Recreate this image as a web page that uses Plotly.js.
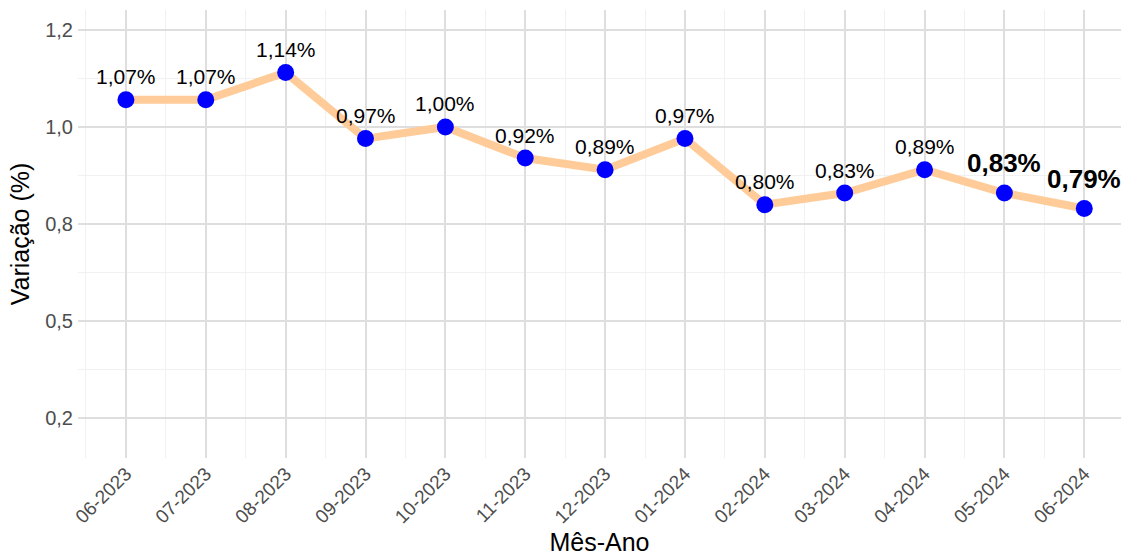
<!DOCTYPE html>
<html>
<head>
<meta charset="utf-8">
<script src="https://cdn.plot.ly/plotly-3.0.1.min.js"></script>
<style>html,body{margin:0;padding:0;background:#fff;}#chart{width:1121px;height:556px;}</style>
</head>
<body>
<div id="chart"></div>
<script>
const categories = ['06-2023','07-2023','08-2023','09-2023','10-2023','11-2023','12-2023','01-2024','02-2024','03-2024','04-2024','05-2024','06-2024'];
const values = [1.07, 1.07, 1.14, 0.97, 1.00, 0.92, 0.89, 0.97, 0.80, 0.83, 0.89, 0.83, 0.79];
const labels = ['1,07%','1,07%','1,14%','0,97%','1,00%','0,92%','0,89%','0,97%','0,80%','0,83%','0,89%','0,83%','0,79%'];
const highlighted = [false,false,false,false,false,false,false,false,false,false,false,true,true];
const yTickVals = [0.25, 0.5, 0.75, 1.0, 1.25];
const yTickText = ['0,2','0,5','0,8','1,0','1,2'];
const yMinorVals = [0.375, 0.625, 0.875, 1.125];

const idx = categories.map((c, i) => i);
const font = 'Liberation Sans, Arial, Helvetica, sans-serif';

const traces = [
  {x: idx, y: values, type: 'scatter', mode: 'lines', line: {color: '#FFCC99', width: 8}, hoverinfo: 'skip'},
  {x: idx, y: values, type: 'scatter', mode: 'markers', marker: {color: '#0000FF', size: 17}, text: labels, hoverinfo: 'text'}
];

const annotations = idx.map(i => ({
  x: i, y: values[i], xref: 'x', yref: 'y',
  text: highlighted[i] ? '<b>' + labels[i] + '</b>' : labels[i],
  showarrow: false,
  yshift: highlighted[i] ? 30 : 23,
  font: {family: font, size: highlighted[i] ? 26 : 21, color: '#000'}
}));

const layout = {
  width: 1121, height: 556,
  margin: {l: 78, r: 0, t: 10, b: 98},
  paper_bgcolor: '#fff', plot_bgcolor: '#fff',
  showlegend: false,
  font: {family: font},
  xaxis: {
    type: 'linear', range: [-0.6, 12.46],
    tickmode: 'array', tickvals: idx, ticktext: categories,
    tickangle: -45, tickfont: {family: font, size: 19, color: '#4d4d4d'},
    showgrid: true, gridcolor: '#dedede', gridwidth: 2,
    zeroline: false, showline: false, ticks: '',
    minor: {tickmode: 'array', tickvals: idx.map(i => i - 0.5).concat([idx.length - 0.5]), showgrid: true, gridcolor: '#f1f1f1', gridwidth: 1, ticks: ''},
    title: {text: 'Mês-Ano', font: {family: font, size: 25, color: '#000'}, standoff: 8},
    fixedrange: true
  },
  yaxis: {
    range: [0.148, 1.301],
    tickmode: 'array', tickvals: yTickVals, ticktext: yTickText,
    tickfont: {family: font, size: 20, color: '#4d4d4d'},
    showgrid: true, gridcolor: '#dedede', gridwidth: 2,
    zeroline: false, showline: false, ticks: '', ticklen: 0,
    ticklabelstandoff: 4,
    minor: {tickmode: 'array', tickvals: yMinorVals, showgrid: true, gridcolor: '#f1f1f1', gridwidth: 1, ticks: ''},
    title: {text: 'Variação (%)', font: {family: font, size: 25, color: '#000'}, standoff: 8},
    fixedrange: true
  },
  annotations: annotations
};

Plotly.newPlot('chart', traces, layout, {displayModeBar: false, staticPlot: true});
</script>
</body>
</html>
